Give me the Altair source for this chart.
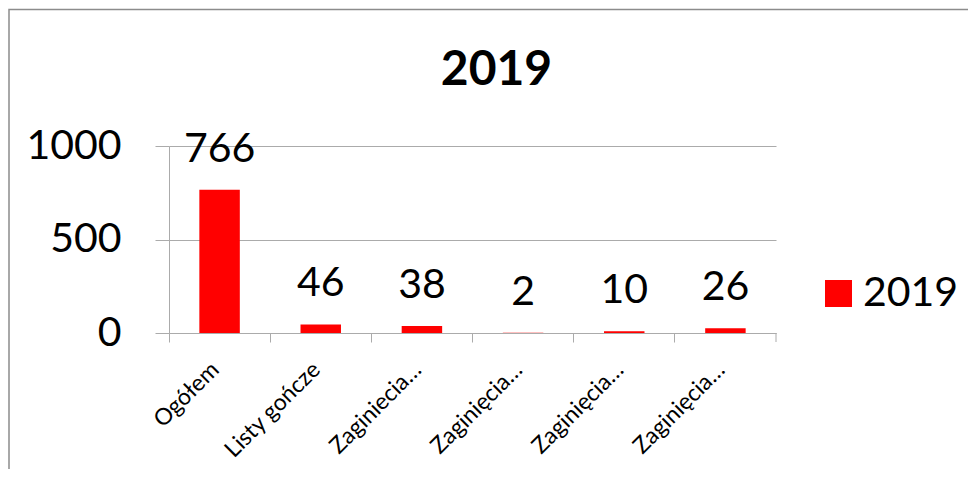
import altair as alt
import pandas as pd

# ---- data ----
categories = ["Ogółem", "Listy gończe", "Zaginiecia…", "Zaginięcia…", "Zaginięcia…", "Zaginięcia…"]
values = [766, 46, 38, 2, 10, 26]
series_name = "2019"
title_text = "2019"
y_ticks = [0, 500, 1000]

W, H = 607, 187
GRID = "#ababab"
FONT = "Lato"

df = pd.DataFrame({
    "idx": list(range(len(categories))),
    "value": values,
    "series": [series_name] * len(values),
})

label_expr = "[" + ",".join("'" + c + "'" for c in categories) + "][datum.value]"

x_enc = alt.X(
    "idx:O",
    scale=alt.Scale(paddingInner=0, paddingOuter=0),
    axis=alt.Axis(
        title=None, labelExpr=label_expr, labelAngle=-45, labelFontSize=23,
        labelFont=FONT, labelColor="black", bandPosition=0, tickSize=9,
        tickColor=GRID, domainColor=GRID, labelPadding=16, labelOffset=-12,
    ),
)
y_enc = alt.Y(
    "value:Q",
    scale=alt.Scale(domain=[0, 1000]),
    axis=alt.Axis(
        title=None, values=y_ticks, format="d", labelFontSize=41, labelFont=FONT,
        labelColor="black", tickSize=14, tickColor=GRID, gridColor=GRID,
        domainColor=GRID, labelPadding=34,
    ),
)

bars = alt.Chart(df).mark_bar(width=alt.RelativeBandSize(0.4)).encode(
    x=x_enc,
    y=y_enc,
    color=alt.Color(
        "series:N",
        scale=alt.Scale(range=["#ff0000"]),
        legend=alt.Legend(
            title=None, orient="none", legendX=649, legendY=127,
            symbolType="square", symbolSize=729, symbolStrokeWidth=0,
            labelFontSize=41, labelFont=FONT, labelColor="black",
            labelOffset=4, padding=0,
        ),
    ),
)

labels = alt.Chart(df).mark_text(
    fontSize=41, font=FONT, color="black", baseline="alphabetic", dy=-28
).encode(x="idx:O", y="value:Q", text="value:Q")

frame_df = pd.DataFrame({"k": [0]})
frame = alt.Chart(frame_df).mark_rect(
    fill="transparent", stroke="#8c8c8c", strokeWidth=1.5
).encode(
    x=alt.value(-160), x2=alt.value(815), y=alt.value(-136.5), y2=alt.value(334)
)
end_tick = alt.Chart(frame_df).mark_rule(color=GRID).encode(
    x=alt.value(W), y=alt.value(H), y2=alt.value(H + 9)
)

chart = alt.layer(frame, bars, labels, end_tick).properties(
    width=W, height=H,
    title=alt.TitleParams(
        text=title_text, fontSize=48, font=FONT, fontWeight="bold",
        color="black", anchor="middle", frame="bounds", baseline="middle",
        offset=-110,
    ),
    autosize=alt.AutoSizeParams(type="none"),
    padding={"left": 161, "top": 138, "right": 192, "bottom": 136},
).configure_view(stroke=None)

chart.save("out.html", embed_options={"renderer": "svg", "actions": False})
